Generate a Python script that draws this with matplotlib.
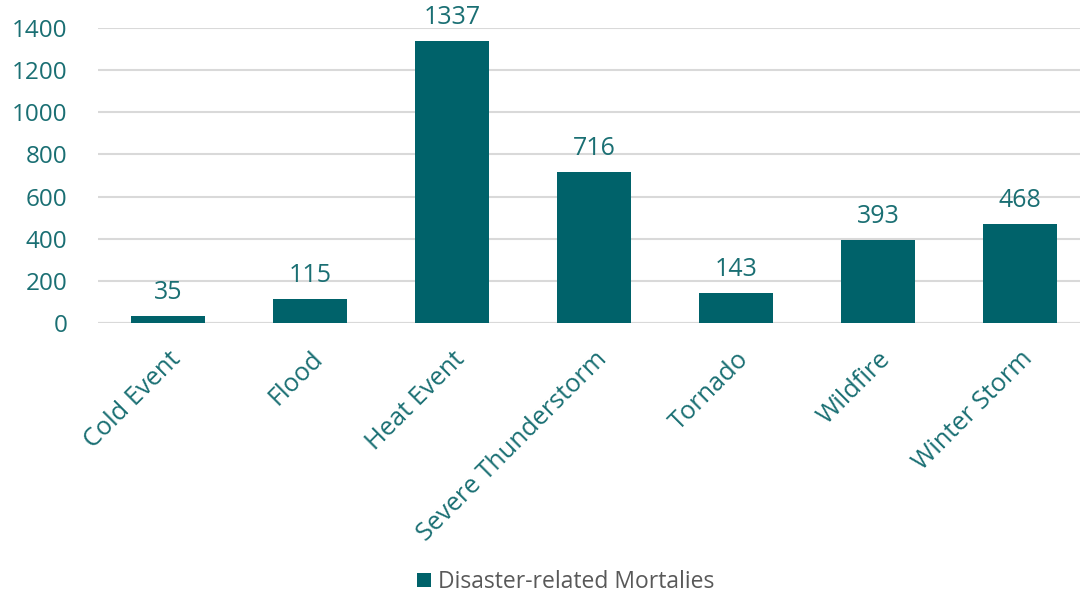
import numpy as np
import matplotlib.pyplot as plt

categories = ["Cold Event", "Flood", "Heat Event", "Severe Thunderstorm",
              "Tornado", "Wildfire", "Winter Storm"]
mortalities = [35, 115, 1337, 716, 143, 393, 468]
yticks = [0, 200, 400, 600, 800, 1000, 1200, 1400]

bar_color = "#00626A"
text_color = "#1A6F73"

plt.rcParams['font.family'] = ['Open Sans', 'DejaVu Sans']

fig = plt.figure(figsize=(10.82, 5.92), dpi=100)
ax = fig.add_axes([0.0906, 0.4544, 0.9074, 0.4983])

x = np.arange(len(categories))
bars = ax.bar(x, mortalities, width=0.52, color=bar_color, zorder=3,
              label="Disaster-related Mortalies")

# value labels above each bar
for xi, v in zip(x, mortalities):
    ax.annotate(str(v), (xi, v), xytext=(0, 8), textcoords="offset points",
                ha="center", va="bottom", fontsize=18, color=text_color,
                annotation_clip=False)

ax.set_xlim(-0.493, 6.422)
ax.set_ylim(0, 1400)
ax.set_yticks(yticks)
ax.set_yticklabels([str(t) for t in yticks], fontsize=17.5, color=text_color)
ax.set_xticks(x)
ax.set_xticklabels(categories, rotation=45, ha="right", rotation_mode="anchor",
                   fontsize=18.3, color=text_color)
ax.tick_params(axis="both", length=0)
ax.tick_params(axis="y", pad=22)
ax.tick_params(axis="x", pad=17)

ax.grid(axis="y", color="#D9D9D9", lw=1.5, zorder=0)
for s in ax.spines.values():
    s.set_visible(False)
ax.axhline(0, color="#D9D9D9", lw=1.5, zorder=2)

leg = fig.legend(loc="lower center", bbox_to_anchor=(0.523, -0.038), frameon=False,
                 fontsize=16.5, handlelength=0.6, handleheight=0.6, handletextpad=0.3)
for t in leg.get_texts():
    t.set_color("#595959")

fig.savefig("out.png", dpi=100)
